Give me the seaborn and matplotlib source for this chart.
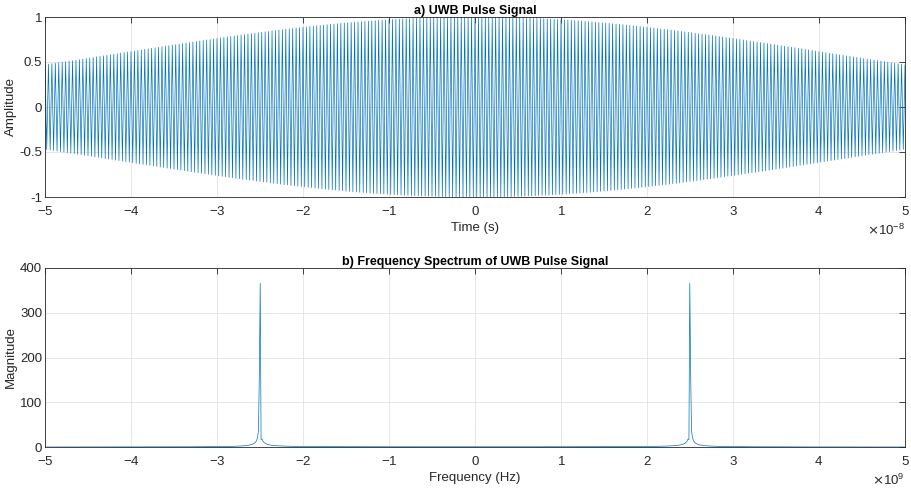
import numpy as np
import matplotlib
matplotlib.use("Agg")
import matplotlib.pyplot as plt
import seaborn as sns
from matplotlib.ticker import ScalarFormatter

# Pulse parameters
fs = 10e9            # sampling rate (Hz)
t_start, t_stop = -5e-8, 5e-8
fc = 2.5e9           # carrier frequency (Hz)
tau = 5.75e-8        # Gaussian envelope width (s)

t = np.arange(round(t_start * fs), round(t_stop * fs) + 1) / fs
n_samples = t.size
envelope = np.exp(-(t / tau) ** 2)
pulse = envelope * np.cos(2 * np.pi * fc * t)

spectrum = np.abs(np.fft.fftshift(np.fft.fft(pulse)))
freq = (np.arange(n_samples) - n_samples // 2) * fs / n_samples

x_ticks = [-5, -4, -3, -2, -1, 0, 1, 2, 3, 4, 5]
amp_ticks = [-1, -0.5, 0, 0.5, 1]
amp_labels = ["-1", "-0.5", "0", "0.5", "1"]
mag_ticks = [0, 100, 200, 300, 400]

sns.set_theme(style="white")
plt.rcParams["font.family"] = ["Liberation Sans", "DejaVu Sans"]
plt.rcParams["axes.unicode_minus"] = False

line_color = "#0072BD"
axis_color = "#262626"

fig = plt.figure(figsize=(9.12, 4.90), dpi=100)
ax1 = fig.add_axes([45 / 912, 1 - 197 / 490, 860 / 912, 180 / 490])
ax2 = fig.add_axes([45 / 912, 1 - 447 / 490, 860 / 912, 179 / 490])

sns.lineplot(x=t, y=pulse, ax=ax1, color=line_color, linewidth=0.5, estimator=None)
sns.lineplot(x=freq, y=spectrum, ax=ax2, color=line_color, linewidth=0.5, estimator=None)


def style_axes(ax, xlim, ylim, yticks, xlabel, ylabel, title, exponent):
    ax.set_xlim(*xlim)
    ax.set_ylim(*ylim)
    ax.set_xticks(np.array(x_ticks) * 10.0 ** exponent)
    ax.set_yticks(yticks)
    fmt = ScalarFormatter(useMathText=True)
    fmt.set_powerlimits((0, 0))
    ax.xaxis.set_major_formatter(fmt)
    ax.xaxis.get_offset_text().set_fontsize(9.5)
    ax.xaxis.get_offset_text().set_color(axis_color)
    ax.grid(True, color="#e3e3e3", linewidth=0.6)
    ax.set_axisbelow(True)
    for s in ax.spines.values():
        s.set_visible(True)
        s.set_color(axis_color)
        s.set_linewidth(0.6)
    ax.tick_params(direction="in", length=4, width=0.6, colors=axis_color,
                   labelsize=9.5, top=True, right=True)
    ax.tick_params(axis="x", pad=6)
    ax.tick_params(axis="y", pad=2)
    ax.set_xlabel(xlabel, fontsize=9.5, color=axis_color, labelpad=3)
    ax.set_ylabel(ylabel, fontsize=9.5, color=axis_color, labelpad=2)
    ax.set_title(title, fontsize=9, fontweight="bold", color="black", pad=2.5)


style_axes(ax1, (t_start, t_stop), (-1, 1), amp_ticks, "Time (s)", "Amplitude",
           "a) UWB Pulse Signal", -8)
style_axes(ax2, (-5e9, 5e9), (0, 400), mag_ticks, "Frequency (Hz)", "Magnitude",
           "b) Frequency Spectrum of UWB Pulse Signal", 9)
ax1.set_yticks(amp_ticks, amp_labels)

fig.savefig("out.png", dpi=100)
